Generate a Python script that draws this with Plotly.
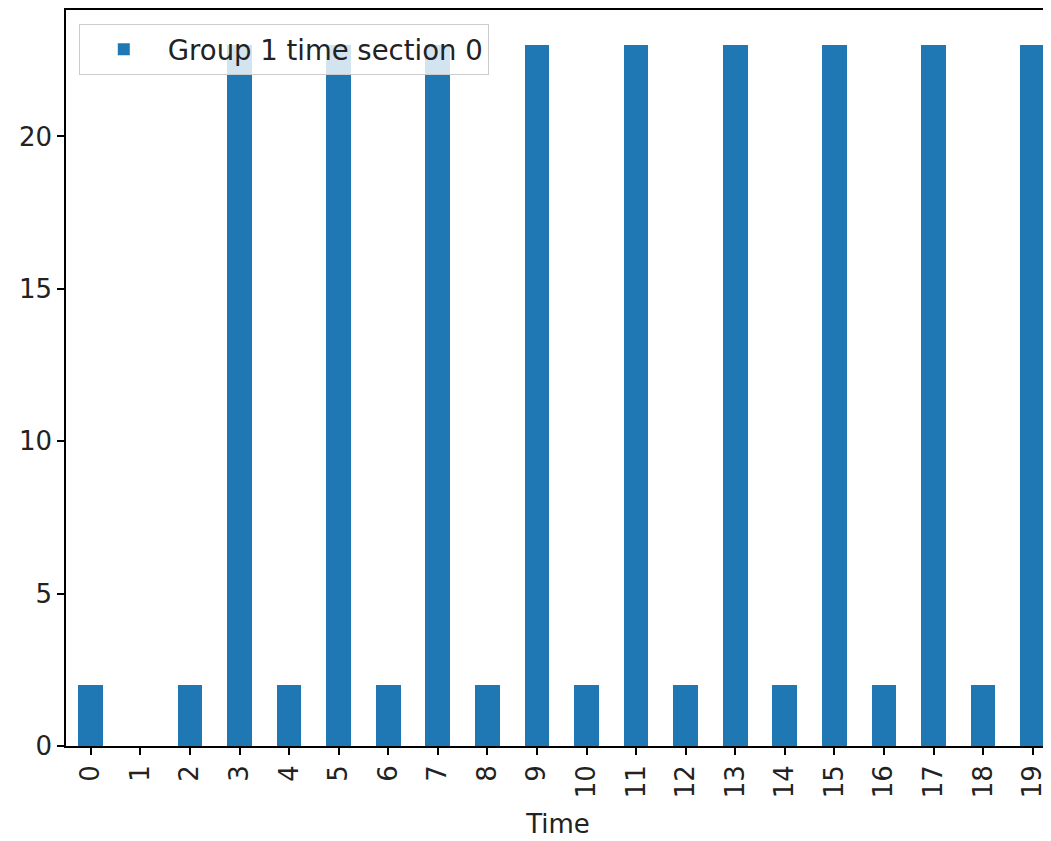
import plotly.graph_objects as go

time_labels = [str(i) for i in range(20)]
counts = [2, 0, 2, 23, 2, 23, 2, 23, 2, 23, 2, 23, 2, 23, 2, 23, 2, 23, 2, 23]
series_name = "Group 1 time section 0"
y_ticks = [0, 5, 10, 15, 20]

FONT = "DejaVu Sans"
FS = 27
fig = go.Figure()
fig.add_trace(go.Bar(
    x=list(range(len(time_labels))), y=counts, name=series_name,
    marker=dict(color="#1f77b4", line=dict(width=0)), width=0.5,
    showlegend=True,
))
fig.update_layout(
    width=1043, height=833,
    margin=dict(l=58, r=1, t=0, b=95),
    paper_bgcolor="white", plot_bgcolor="white",
    font=dict(family=FONT, size=FS, color="#222222"),
    showlegend=True,
    legend=dict(
        x=0.013, y=0.981, xanchor="left", yanchor="top",
        bgcolor="rgba(255,255,255,0.8)", bordercolor="#cccccc", borderwidth=1,
        font=dict(family=FONT, size=FS + 0.5, color="#222222"),
        itemwidth=78,
    ),
    bargap=0,
)
fig.update_xaxes(
    range=[-0.5, 19.35], tickmode="array",
    tickvals=list(range(len(time_labels))), ticktext=time_labels,
    tickangle=-90, ticks="outside", ticklen=7, tickwidth=1.5, tickcolor="black",
    showline=True, linecolor="black", linewidth=1.5, mirror=True,
    showgrid=False, zeroline=False,
    title=dict(text="Time", standoff=18, font=dict(size=FS - 1)),
    tickfont=dict(size=FS - 1),
)
fig.update_yaxes(
    range=[0, 24.15], tickmode="array", tickvals=y_ticks,
    ticks="outside", ticklen=7, tickwidth=1.5, tickcolor="black",
    showline=True, linecolor="black", linewidth=1.5,
    showgrid=False, zeroline=False, tickfont=dict(size=FS - 1),
)
fig.write_html("out.html")
